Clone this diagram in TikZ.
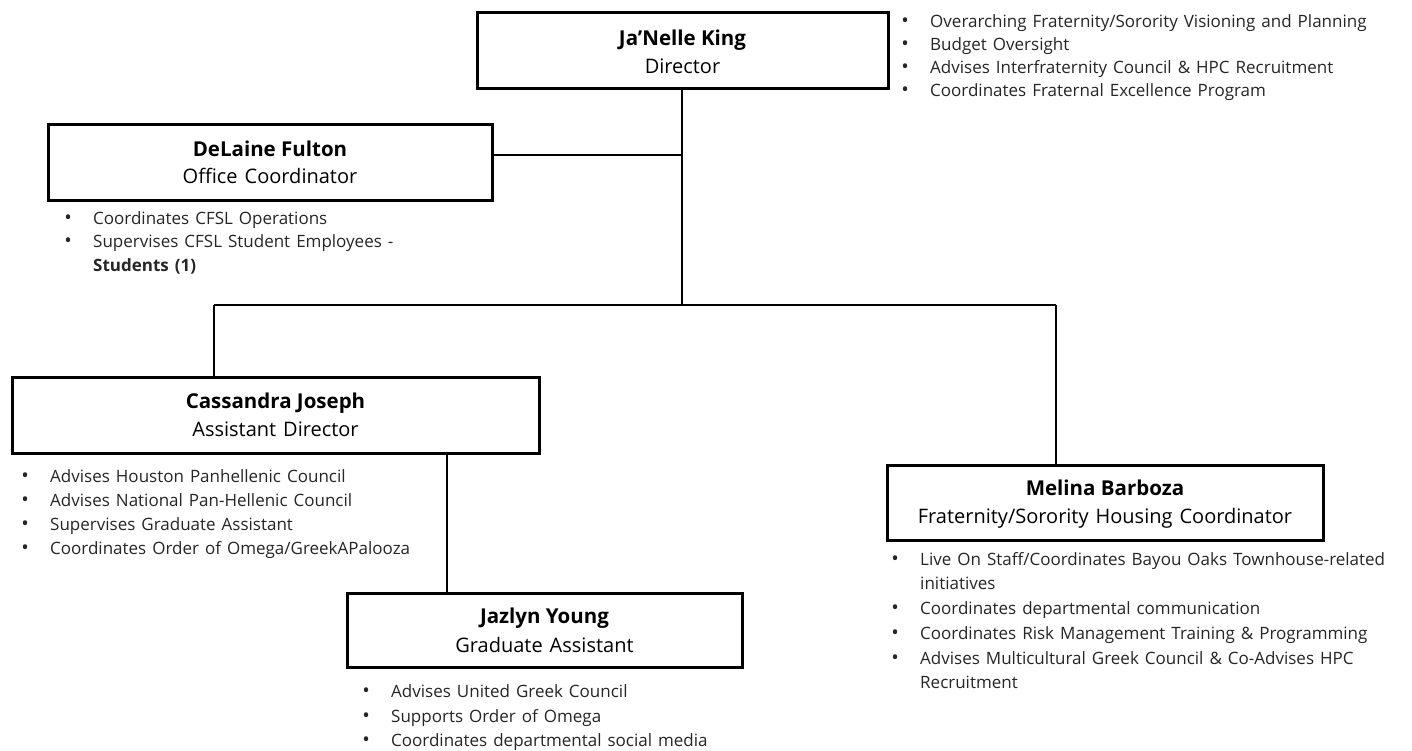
\documentclass[tikz,border=0pt]{standalone}
\usepackage{fontspec}
\setmainfont{Open Sans}
\begin{document}
\begin{tikzpicture}[x=1pt,y=-1pt,
  box/.style={draw=black,line width=3pt,rectangle,inner sep=0pt},
  link/.style={draw=black,line width=1.6pt},
  nm/.style={anchor=base,inner sep=0pt,font={\fontsize{20.5}{24}\selectfont\bfseries}},
  ttl/.style={anchor=base,inner sep=0pt,font={\fontsize{20}{24}\selectfont\spaceskip=7pt plus 1pt}},
  bl/.style={anchor=base west,inner sep=0pt,font={\fontsize{17}{20}\selectfont\spaceskip=6pt plus 1pt},text=black!85}
]
\newcommand\bdot{\makebox[0pt][c]{\fontsize{20}{20}\selectfont\textbullet}\hspace{25pt}}
\useasboundingbox[fill=white] (0,0) rectangle (1412,750);

% boxes
\node[box,minimum width=411pt,minimum height=76pt] (king) at (682.5,50) {};
\node[box,minimum width=444pt,minimum height=76pt] (fulton) at (270,162) {};
\node[box,minimum width=527pt,minimum height=76pt] (joseph) at (275.5,415) {};
\node[box,minimum width=395pt,minimum height=74pt] (young) at (544.5,630) {};
\node[box,minimum width=436pt,minimum height=75pt] (barboza) at (1105,502.5) {};

% titles
\node[nm] (kingN) at (682.5,45) {Ja’Nelle King};
\node[ttl] (kingT) at (682.5,73) {Director};
\node[nm] (fultonN) at (270,156) {DeLaine Fulton};
\node[ttl] (fultonT) at (270,183) {Office Coordinator};
\node[nm] (josephN) at (275.5,408) {Cassandra Joseph};
\node[ttl] (josephT) at (275.5,436) {Assistant Director};
\node[nm] (youngN) at (544.5,623) {Jazlyn Young};
\node[ttl] (youngT) at (544.5,652) {Graduate Assistant};
\node[nm] (barbozaN) at (1105,495) {Melina Barboza};
\node[ttl] (barbozaT) at (1105,523) {Fraternity/Sorority Housing Coordinator};

% connectors
\coordinate (hub) at (682,305);
\coordinate (fj) at (682,155);
\coordinate (lj) at (214,305);
\coordinate (rj) at (1056,305);
\draw[link] (king.south -| hub) -- (hub);
\draw[link] (fulton.east |- fj) -- (fj);
\draw[link] (lj) -- (rj);
\draw[link] (lj) -- (lj |- joseph.north);
\draw[link] (rj) -- (rj |- barboza.north);
\draw[link] (joseph.south -| 447,0) -- (young.north -| 447,0);

% bullets: director
\node[bl] (k1) at (905,27) {\bdot Overarching Fraternity/Sorority Visioning and Planning};
\node[bl] (k2) at (905,50) {\bdot Budget Oversight};
\node[bl] (k3) at (905,73) {\bdot Advises Interfraternity Council \& HPC Recruitment};
\node[bl] (k4) at (905,96.5) {\bdot Coordinates Fraternal Excellence Program};

% bullets: office coordinator
\node[bl] (f1) at (68,224) {\bdot Coordinates CFSL Operations};
\node[bl] (f2) at (68,247.5) {\bdot Supervises CFSL Student Employees -};
\node[bl] (f3) at (68,271) {\hspace{25pt}\textbf{Students (1)}};

% bullets: assistant director
\node[bl] (j1) at (25,482) {\bdot Advises Houston Panhellenic Council};
\node[bl] (j2) at (25,506) {\bdot Advises National Pan-Hellenic Council};
\node[bl] (j3) at (25,530) {\bdot Supervises Graduate Assistant};
\node[bl] (j4) at (25,554) {\bdot Coordinates Order of Omega/GreekAPalooza};

% bullets: graduate assistant
\node[bl] (y1) at (366,697) {\bdot Advises United Greek Council};
\node[bl] (y2) at (366,722) {\bdot Supports Order of Omega};
\node[bl] (y3) at (366,746) {\bdot Coordinates departmental social media};

% bullets: housing coordinator
\node[bl] (b1) at (895,565) {\bdot Live On Staff/Coordinates Bayou Oaks Townhouse-related};
\node[bl] (b2) at (895,589) {\hspace{25pt}initiatives};
\node[bl] (b3) at (895,614) {\bdot Coordinates departmental communication};
\node[bl] (b4) at (895,639) {\bdot Coordinates Risk Management Training \& Programming};
\node[bl] (b5) at (895,664) {\bdot Advises Multicultural Greek Council \& Co-Advises HPC};
\node[bl] (b6) at (895,688) {\hspace{25pt}Recruitment};
\end{tikzpicture}
\end{document}
